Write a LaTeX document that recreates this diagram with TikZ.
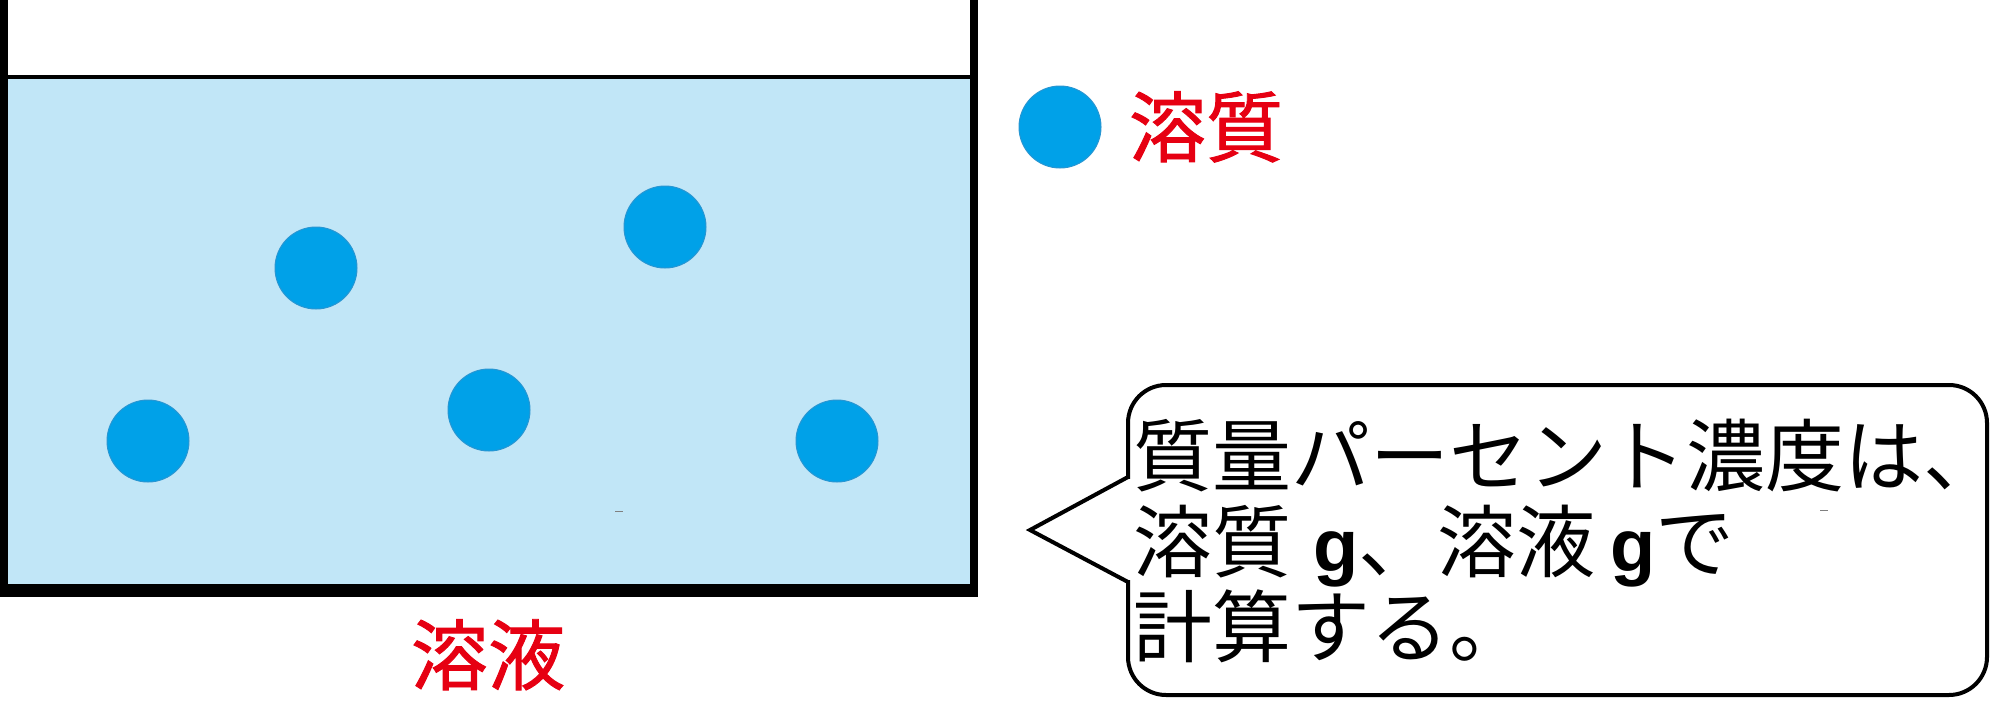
\documentclass[tikz,border=0pt]{standalone}
\usepackage{fontspec}
\newfontfamily\cjk{Noto Sans CJK JP}
\newfontfamily\cjkmed[FakeBold=1.2]{Noto Sans CJK JP}
\newfontfamily\gfont{Liberation Sans}
\newcommand{\boldg}{{\gfont\bfseries\fontsize{74pt}{86pt}\selectfont g}}
\definecolor{water}{RGB}{193,230,247}
\definecolor{solute}{RGB}{0,161,232}
\definecolor{soluteedge}{RGB}{40,150,210}
\definecolor{labelred}{RGB}{230,0,18}
\tikzset{
  wall/.style={fill=black},
  particle/.style={circle, fill=solute, draw=soluteedge, line width=1pt, minimum size=82pt, inner sep=0pt},
  redlabel/.style={font=\cjkmed\fontsize{77pt}{80pt}\selectfont, text=labelred, inner sep=0pt, anchor=base},
  bubbletext/.style={font=\cjk\fontsize{79pt}{86pt}\selectfont, inner sep=0pt, anchor=base west},
  bubble/.style={draw=black, line width=4pt, rounded corners=38pt}
}
\begin{document}
\begin{tikzpicture}[x=1pt,y=-1pt]
\useasboundingbox (0,0) rectangle (2000,715);
% water
\fill[water] (8,78) rectangle (970,584);
% surface line
\draw[line width=4pt, black] (8,77) -- (970,77);
% walls
\fill[wall] (0,0) rectangle (8,597);
\fill[wall] (970,0) rectangle (978,597);
\fill[wall] (0,584) rectangle (978,597);
% particles
\node[particle] (p1) at (148,441) {};
\node[particle] (p2) at (316,268) {};
\node[particle] (p3) at (665,227) {};
\node[particle] (p4) at (489,410) {};
\node[particle] (p5) at (837,441) {};
\draw[gray, line width=1pt] (615,511) -- (623,511);
% legend
\node[particle] (leg) at (1060,127) {};
\node[redlabel] (solutelabel) at (1206,156) {溶質};
\node[redlabel] (solutionlabel) at (488,684) {溶液};
% speech bubble
\draw[bubble] (1128,385) rectangle (1987,695);
\fill[white] (1122,479) -- (1134,479) -- (1134,580) -- (1122,580) -- cycle;
\draw[line width=4pt, line join=miter] (1128,477) -- (1030,530) -- (1128,582);
\draw[gray, line width=1pt] (1820,510) -- (1828,510);
\node[bubbletext] (line1) at (1133,485) {質量パーセント濃度は、};
\node[bubbletext] (line2) at (1133,571) {溶質\hspace{22pt}\boldg、溶液\hspace{15pt}\boldg で};
\node[bubbletext] (line3) at (1133,656) {計算する。};
\end{tikzpicture}
\end{document}
